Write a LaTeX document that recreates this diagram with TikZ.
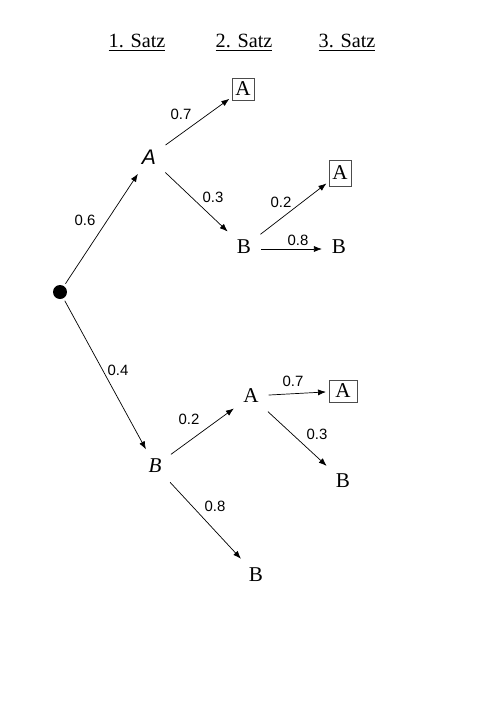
\documentclass[tikz,border=0pt]{standalone}
\usepackage{fontspec}
\setmainfont{Liberation Serif}
\setsansfont{Liberation Sans}
\usetikzlibrary{arrows.meta}
\tikzset{
    zweig/.style={-{Latex[length=1.6mm,width=1.2mm]}, thin, shorten <=1.5pt, shorten >=1.5pt},
    prob/.style={font=\sffamily\fontsize{8.5}{10}\selectfont},
    ergebnis/.style={font=\fontsize{12}{13}\selectfont, inner sep=4pt},
    treffer/.style={ergebnis, draw=black!70, thin, inner sep=2pt, minimum size=0.44cm}
    ,kopf/.style={font=\fontsize{11.5}{13}\selectfont}
}
\begin{document}
\begin{tikzpicture}[x=0.02cm,y=-0.02cm]
        \useasboundingbox (0,0) rectangle (500,707);
        % Kopfzeile
        \node[kopf] (s1) at (137,43) {\underline{1. Satz}};
        \node[kopf] (s2) at (244,43) {\underline{2. Satz}};
        \node[kopf] (s3) at (347,43) {\underline{3. Satz}};
        % Baum
        \node[circle, fill, inner sep=0pt, minimum size=0.28cm] (r) at (60,292) {};
        \node[ergebnis] (a1) at (149,157) {\textsf{\itshape A}};
        \node[treffer] (aa) at (243,89) {A};
        \node[ergebnis] (ab) at (244,247) {B};
        \node[treffer, minimum height=0.52cm] (aba) at (340,173) {A};
        \node[ergebnis] (abb) at (339,247) {B};
        \node[ergebnis] (b1) at (155,466) {\textit{B}};
        \node[ergebnis] (ba) at (251,396) {A};
        \node[treffer, minimum width=0.56cm] (baa) at (343,391) {A};
        \node[ergebnis] (bab) at (343,481) {B};
        \node[ergebnis] (bb) at (256,575) {B};
        \draw[zweig] (r) -- (a1);
        \draw[zweig] (a1) -- (aa);
        \draw[zweig] (a1) -- (ab);
        \draw[zweig] (ab) -- (aba);
        \draw[zweig] ([yshift=-0.04cm]ab.east) -- ([yshift=-0.04cm]abb.west);
        \draw[zweig] (r) -- (b1);
        \draw[zweig] (b1) -- (ba);
        \draw[zweig] (ba) -- (baa);
        \draw[zweig] (ba) -- (bab);
        \draw[zweig] (b1) -- (bb);
        % Wahrscheinlichkeiten
        \node[prob] (p1) at (85,220) {0.6};
        \node[prob] (p2) at (181,114) {0.7};
        \node[prob] (p3) at (213,197) {0.3};
        \node[prob] (p4) at (281,202) {0.2};
        \node[prob] (p5) at (298,240) {0.8};
        \node[prob] (p6) at (118,370) {0.4};
        \node[prob] (p7) at (189,419) {0.2};
        \node[prob] (p8) at (293,381) {0.7};
        \node[prob] (p9) at (317,434) {0.3};
        \node[prob] (p10) at (215,506) {0.8};
\end{tikzpicture}
\end{document}
